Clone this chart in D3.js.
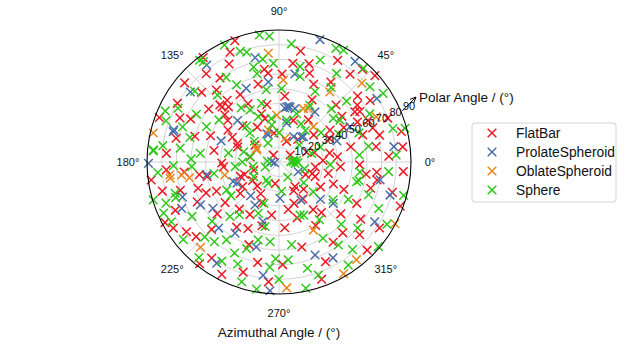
<!DOCTYPE html>
<html>
<head>
<meta charset="utf-8">
<script src="https://cdn.jsdelivr.net/npm/d3@7"></script>
<style>
  body { margin: 0; background: #fff; }
  text { font-family: "Liberation Sans", Arial, sans-serif; fill: #111; }
</style>
</head>
<body>
<div class="chart"></div>
<script>
var w = 631;
var h = 349;

// [azimuth deg, polar deg]
var flatBar = [
  [114,82],[129.5,78],[117,75],[99,64],[97,61],[131,65],[138,71],[120,53],[130,55],[132.5,51],[139,49],[141,45],
  [159.6,87],[156,74],[154,67],[159,50],[148,41],[167,72],[175.6,77],[136,56],[129,6],[122,28],[108,31],[102,40],
  [125,70],[143,60],[150,80],[110,88],[135,35],[160,30],[145,20],[170,45],[118,45],[105,55],[140,84],[163,60],
  [100,20],[126,88],[152,36],
  [79,77],[82,68],[73,70],[71,64],[66,58],[57,65],[51,77],[34,75],[33.5,62],[32,65],[25,67],[20,68],[15,71],
  [14,86],[7,85],[36,53],[18,60],[9,67],[71,30],[32,41],[25,38],[32,9],[62,48],[40,70],[45,55],[28,50],[22,80],
  [55,35],[48,85],[12,50],[5,40],[60,80],[85,45],[38,30],[15,25],[50,20],[70,15],[88,60],[42,88],[3,75],
  [184,77],[189,55],[191.5,50],[185,38],[200.6,28],[194,82],[198,58],[203,54],[205,47],[219,34],[205,78],[206,62],
  [217,46],[212,85],[217,79],[222,76],[237,53],[245,50],[241,41],[262,36.5],[235,80],[243,86],[252,79],
  [186,65],[196,70],[225,65],[230,42],[250,60],[258,70],[214,30],[228,22],[198,18],[208,88],[232,88],[265,82],
  [247,30],[188,88],[220,55],[255,45],
  [347,34.5],[355.6,42],[354,67],[349.6,68],[355.6,85],[344,65],[332,60],[329,33],[341,24],[281,33],[305.6,40],
  [304,66],[318,74],[326.7,82],[300,50],[310,45],[338,40],[320,55],[295,75],[285,60],[275,45],[290,85],[315,85],
  [345,80],[335,20],[312,25],[297,22],[272,70],[325,68],[358,55],[352,25],[288,40],[340,88],[303,30],
  [136,54],[156,31],[181,39],[303,20],[338,26.5],[170,20],[200,25],[215,22],[260,15],[290,30],[10,35],[20,20],
  [110,35],[240,25],[36,66],[27,60],[352,60],[2,30],[337,48],[312,65]
];

var prolateSpheroid = [
  [126.7,82.5],[102.9,73],[97.6,55],[141.7,77],[114,55],[163,75],[111.6,20],
  [71.5,88],[79.8,61],[52.9,86],[33,79.5],[7.6,79],[26.5,54],[78.6,38],[73.4,38],[54.4,42],[48.2,23],[82,38],
  [80,38.5],[78.8,27],[46.2,24],[113.3,21],
  [180.6,89],[206.7,32],[205.5,73.5],[208.6,61],[227.6,61],[238.3,57],[240.8,33.6],[238.4,81],
  [322.7,46.5],[343.4,79],[328,77],[291.2,68],[299.4,75],
  [177,5],[190,3],[333,14.7],[203,34],[271.6,24.8],[164,75],[200,70],[255,60],[262,78],[300,30],[318,38],
  [230,30],[255,42],[60,20],[84,37],[20,42],[266,88],[350,70],[135,40],[190,50],[215,55],[160,42]
];

var oblateSpheroid = [
  [95.6,74.5],[148.5,17.8],[108.4,23],[167,88],
  [87,56],[54,59],[43.6,78],[24.9,73],[61.3,41.7],[45.8,33.6],[65.6,40],[92.8,32],[75.8,16.7],
  [186.8,75],[187.6,67],[193.5,38],[227.4,79],
  [296.8,52],[332,89.5],[308.4,85],[273.5,86],
  [151.7,17.3],[188.5,75],[190,62],[300,88]
];

var sphere = [
  [98.8,87.6],[94.4,86],[109.3,80],[106.4,78],[99,71],[127,85.7],[105,67],[104,62],[132.6,62],[118.8,60],
  [119,40.6],[128,88],[155.8,85],[152,78],[154,55],[173.7,54],[164.6,63],[174.5,86],[169.6,20],[132,33],
  [114.5,34],[106.5,41.7],[93.3,67.4],[140,75],[122,68],[145,50],[160,70],[115,88],[135,28],[100,50],[150,65],
  [125,45],[170,35],
  [84,81],[63.4,86.7],[77.6,66.6],[76.2,60],[62.9,54],[57,72],[48,86],[39.6,80.5],[33.4,85],[45.5,51],[16.4,81],
  [3.4,80],[34.5,50.5],[79.7,29],[61.5,44],[38.8,47.5],[68,75],[55,62],[28,70],[20,58],[10,62],[42,62],[88,50],
  [70,35],[50,28],[25,45],[5,55],[60,88],[15,89],[35,35],
  [183,59.6],[196.8,74],[199,74.5],[208.2,40.5],[243.4,16.3],[196.8,89.5],[221.5,61],[203.9,86],[209,84],[219,84],
  [225.3,72],[231,70],[236,64],[244,69],[249.5,63],[248,37.7],[257.8,45],[263.6,54.7],[252.7,85.5],
  [190,45],[212,70],[228,50],[240,78],[260,88],[268,66],[255,55],[215,40],[233,45],[186,30],[200,82],[248,75],
  [230,85],[265,72],
  [353,55.6],[345.8,54.6],[347,56],[331.7,53.7],[319,31],[291.6,39],[305,48],[305.6,69.6],[319.6,89],[278.7,57],
  [275.4,67],[303.9,84.7],[289.2,81.6],[320,70],[335,75],[345,88],[300,60],[285,75],[310,78],[325,45],[340,65],
  [355,75],[270,80],[295,40],[315,60],[357,35],[330,85],[282,88],
  [101,25.7],[164,25],[1.3,9.8],[355,11],[5,12],[14.9,23],[235.6,15],[345,18],[100,30],[90,20],[200,10],[250,30],
  [20,30],[320,22],[140,22],[180,25],[210,20],[275,20],[300,12],[40,18],[60,30],[120,15],[175,8],[190,18],
  [175,86],[172,80],[185,83],[178,60],[172,68],[182,72],[160,82],[2,8],[358,13],[8,10]
];

var seriesNames = ["FlatBar", "ProlateSpheroid", "OblateSpheroid", "Sphere"];
var seriesColors = ["#ec1822", "#4a6fa8", "#e8861c", "#30c81c"];
var seriesData = [flatBar, prolateSpheroid, oblateSpheroid, sphere];

var rTicks = [10, 20, 30, 40, 50, 60, 70, 80, 90];
var angleTicks = [0, 45, 90, 135, 180, 225, 270, 315];

var cx = 279, cy = 162, R = 132;

var rScale = d3.scaleLinear().domain([0, 90]).range([0, R]);
var aScale = d3.scaleLinear().domain([0, 360]).range([0, 2 * Math.PI]);

function px(az, r) { return cx + rScale(r) * Math.cos(aScale(az)); }
function py(az, r) { return cy - rScale(r) * Math.sin(aScale(az)); }

var svg = d3.select(".chart")
            .append("svg")
            .attr("width", w)
            .attr("height", h);

// grid
svg.selectAll("circle.grid")
   .data(rTicks.slice(0, -1))
   .enter()
   .append("circle")
   .attr("class", "grid")
   .attr("cx", cx)
   .attr("cy", cy)
   .attr("r", function(d) { return rScale(d); })
   .attr("fill", "none")
   .attr("stroke", "#c8c8c8")
   .attr("stroke-width", 0.8);

svg.selectAll("line.spoke")
   .data(angleTicks)
   .enter()
   .append("line")
   .attr("x1", cx)
   .attr("y1", cy)
   .attr("x2", function(d) { return px(d, 90); })
   .attr("y2", function(d) { return py(d, 90); })
   .attr("stroke", "#c8c8c8")
   .attr("stroke-width", 0.8);

// points
var cross = "M-4.3,-4.3L4.3,4.3M-4.3,4.3L4.3,-4.3";
seriesData.forEach(function(data, i) {
    svg.append("g")
       .selectAll("path")
       .data(data)
       .enter()
       .append("path")
       .attr("d", cross)
       .attr("transform", function(d) {
           return "translate(" + px(d[0], d[1]) + "," + py(d[0], d[1]) + ")";
       })
       .attr("fill", "none")
       .attr("stroke", seriesColors[i])
       .attr("stroke-width", 1.5);
});

svg.append("circle")
   .attr("cx", cx)
   .attr("cy", cy)
   .attr("r", R)
   .attr("fill", "none")
   .attr("stroke", "#000")
   .attr("stroke-width", 1.1);

// angle labels
svg.selectAll("text.ang")
   .data(angleTicks)
   .enter()
   .append("text")
   .attr("x", function(d) { return cx + (R + 19) * Math.cos(aScale(d)); })
   .attr("y", function(d) { return cy - (R + 19) * Math.sin(aScale(d)); })
   .attr("dy", "0.35em")
   .attr("text-anchor", "middle")
   .style("font-size", "11px")
   .text(function(d) { return d + "°"; });

// radial labels
svg.selectAll("text.rl")
   .data(rTicks)
   .enter()
   .append("text")
   .attr("x", function(d) { return px(22.5, d) + 2; })
   .attr("y", function(d) { return py(22.5, d) - 1; })
   .style("font-size", "11px")
   .text(function(d) { return d; });

// polar angle annotation
svg.append("defs").append("marker")
   .attr("id", "head")
   .attr("viewBox", "0 0 10 10")
   .attr("refX", 9)
   .attr("refY", 5)
   .attr("markerWidth", 7)
   .attr("markerHeight", 7)
   .attr("orient", "auto")
   .append("path")
   .attr("d", "M0,1L9,5L0,9")
   .attr("fill", "none")
   .attr("stroke", "#000")
   .attr("stroke-width", 1.3);

svg.append("line")
   .attr("x1", px(22.5, 91))
   .attr("y1", py(22.5, 91))
   .attr("x2", 416)
   .attr("y2", 97)
   .attr("stroke", "#000")
   .attr("stroke-width", 1)
   .attr("marker-end", "url(#head)");

svg.append("text")
   .attr("x", 419)
   .attr("y", 102)
   .style("font-size", "13.5px")
   .text("Polar Angle / (°)");

svg.append("text")
   .attr("x", cx)
   .attr("y", 337)
   .attr("text-anchor", "middle")
   .style("font-size", "13.5px")
   .text("Azimuthal Angle / (°)");

// legend
var legend = svg.append("g").attr("transform", "translate(472,123)");
legend.append("rect")
      .attr("width", 144)
      .attr("height", 79)
      .attr("rx", 3)
      .attr("fill", "#fff")
      .attr("fill-opacity", 0.8)
      .attr("stroke", "#d4d4d4");

legend.selectAll("g.item")
      .data(seriesNames)
      .enter()
      .append("g")
      .attr("transform", function(d, i) { return "translate(0," + (10 + i * 19) + ")"; })
      .each(function(d, i) {
          var g = d3.select(this);
          g.append("path")
           .attr("d", cross)
           .attr("transform", "translate(20,0)")
           .attr("stroke", seriesColors[i])
           .attr("stroke-width", 1.5);
          g.append("text")
           .attr("x", 44)
           .attr("dy", "0.35em")
           .style("font-size", "13.8px")
           .text(d);
      });
</script>
</body>
</html>
